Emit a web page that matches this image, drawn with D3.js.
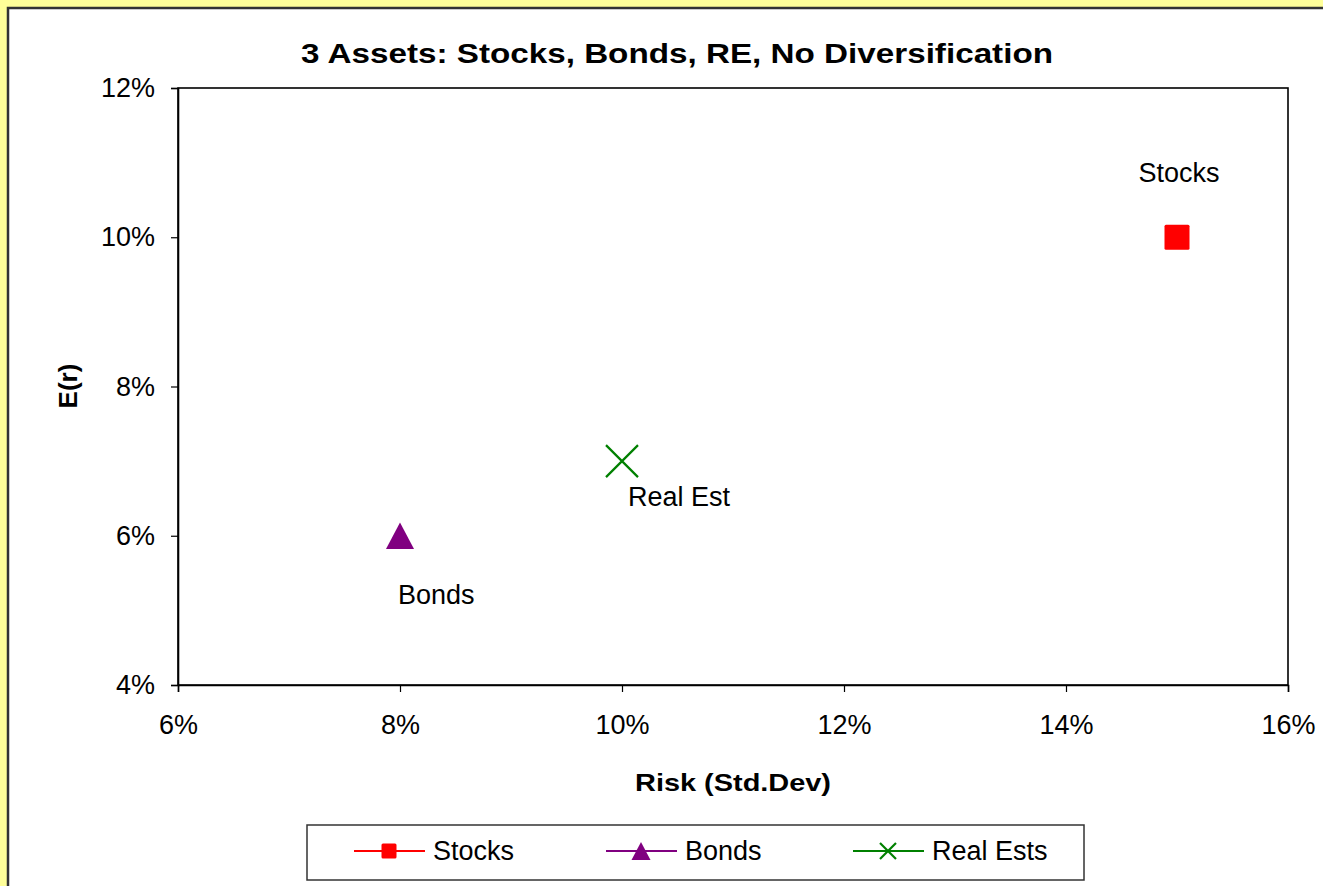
<!DOCTYPE html>
<html>
<head>
<meta charset="utf-8">
<script src="https://cdn.jsdelivr.net/npm/d3@7"></script>
<style>
    body { margin: 0; background: #ffff99; }
    svg { display: block; font-family: "Liberation Sans", Arial, sans-serif; }
</style>
</head>
<body>
<svg id="chart" width="1323" height="886"></svg>
<script>
// data
const assets = ['Stocks', 'Bonds', 'Real Est'];
const legendNames = ['Stocks', 'Bonds', 'Real Ests'];
const risk = [0.15, 0.08, 0.10];
const ret = [0.10, 0.06, 0.07];
const colors = ['#ff0000', '#800080', '#008000'];
const shapes = ['square', 'triangle', 'cross'];
const xTicks = [0.06, 0.08, 0.10, 0.12, 0.14, 0.16];
const yTicks = [0.04, 0.06, 0.08, 0.10, 0.12];

const svg = d3.select('#chart');

// chart area (runs off the right and bottom of the window)
svg.append('rect')
    .attr('x', 8).attr('y', 8)
    .attr('width', 1330).attr('height', 900)
    .attr('fill', '#fff')
    .attr('stroke', '#333').attr('stroke-width', 2.5);

const plot = {left: 178, top: 88, right: 1288, bottom: 685};

const x = d3.scaleLinear().domain([0.06, 0.16]).range([plot.left, plot.right]);
const y = d3.scaleLinear().domain([0.04, 0.12]).range([plot.bottom, plot.top]);

svg.append('rect')
    .attr('x', plot.left).attr('y', plot.top)
    .attr('width', plot.right - plot.left).attr('height', plot.bottom - plot.top)
    .attr('fill', 'none').attr('stroke', '#000').attr('stroke-width', 1.6);

const xAxis = svg.append('g')
    .attr('transform', `translate(0,${plot.bottom})`)
    .call(d3.axisBottom(x).tickValues(xTicks).tickFormat(d3.format('.0%')).tickSize(7).tickPadding(23));

const yAxis = svg.append('g')
    .attr('transform', `translate(${plot.left},0)`)
    .call(d3.axisLeft(y).tickValues(yTicks).tickFormat(d3.format('.0%')).tickSize(7).tickPadding(16));

[xAxis, yAxis].forEach(g => {
    g.select('.domain').attr('stroke', '#000').attr('stroke-width', 1.6);
    g.selectAll('.tick line').attr('stroke', '#000').attr('stroke-width', 1.2);
    g.selectAll('.tick text')
        .attr('fill', '#000')
        .style('font-size', '27px')
        .style('font-family', '"Liberation Sans", Arial, sans-serif');
});

// titles
svg.append('text')
    .attr('x', 677).attr('y', 63)
    .attr('text-anchor', 'middle')
    .attr('font-size', 28).attr('font-weight', 'bold')
    .attr('textLength', 752).attr('lengthAdjust', 'spacingAndGlyphs')
    .text('3 Assets: Stocks, Bonds, RE, No Diversification');

svg.append('text')
    .attr('x', 733).attr('y', 791)
    .attr('text-anchor', 'middle')
    .attr('font-size', 24).attr('font-weight', 'bold')
    .attr('textLength', 196).attr('lengthAdjust', 'spacingAndGlyphs')
    .text('Risk (Std.Dev)');

svg.append('text')
    .attr('transform', 'translate(77,386) rotate(-90)')
    .attr('text-anchor', 'middle')
    .attr('font-size', 26).attr('font-weight', 'bold')
    .text('E(r)');

function drawMarker(g, shape, color, size) {
    if (shape === 'square') {
        g.append('rect')
            .attr('x', -size / 2).attr('y', -size / 2)
            .attr('width', size).attr('height', size)
            .attr('rx', 1.5)
            .attr('fill', color);
    } else if (shape === 'triangle') {
        const h = size * 0.95;
        g.append('path')
            .attr('d', `M0,${-h / 2}L${size / 2},${h / 2}L${-size / 2},${h / 2}Z`)
            .attr('fill', color);
    } else {
        const s = size / 2;
        g.append('path')
            .attr('d', `M${-s},${-s}L${s},${s}M${-s},${s}L${s},${-s}`)
            .attr('stroke', color).attr('stroke-width', 2.2);
    }
}

// points
const markerSize = [25, 28, 32];
assets.forEach((a, i) => {
    const g = svg.append('g').attr('transform', `translate(${x(risk[i])},${y(ret[i])})`);
    drawMarker(g, shapes[i], colors[i], markerSize[i]);
});

// data labels
const labelOffsets = [[2, -55, 'middle'], [-2, 68, 'start'], [6, 45, 'start']];
assets.forEach((a, i) => {
    svg.append('text')
        .attr('x', x(risk[i]) + labelOffsets[i][0])
        .attr('y', y(ret[i]) + labelOffsets[i][1])
        .attr('text-anchor', labelOffsets[i][2])
        .attr('font-size', 27)
        .text(a);
});

// legend
svg.append('rect')
    .attr('x', 307).attr('y', 825)
    .attr('width', 777).attr('height', 55)
    .attr('fill', '#fff').attr('stroke', '#333').attr('stroke-width', 1.5);

const legendX = [354, 606, 853];
legendNames.forEach((n, i) => {
    const g = svg.append('g').attr('transform', `translate(${legendX[i]},851)`);
    g.append('line')
        .attr('x1', 0).attr('x2', 71)
        .attr('stroke', colors[i]).attr('stroke-width', 2.2);
    const m = g.append('g').attr('transform', 'translate(35,0)');
    drawMarker(m, shapes[i], colors[i], [15, 19, 16][i]);
    g.append('text')
        .attr('x', 79).attr('y', 9)
        .attr('font-size', 27)
        .text(n);
});
</script>
</body>
</html>
